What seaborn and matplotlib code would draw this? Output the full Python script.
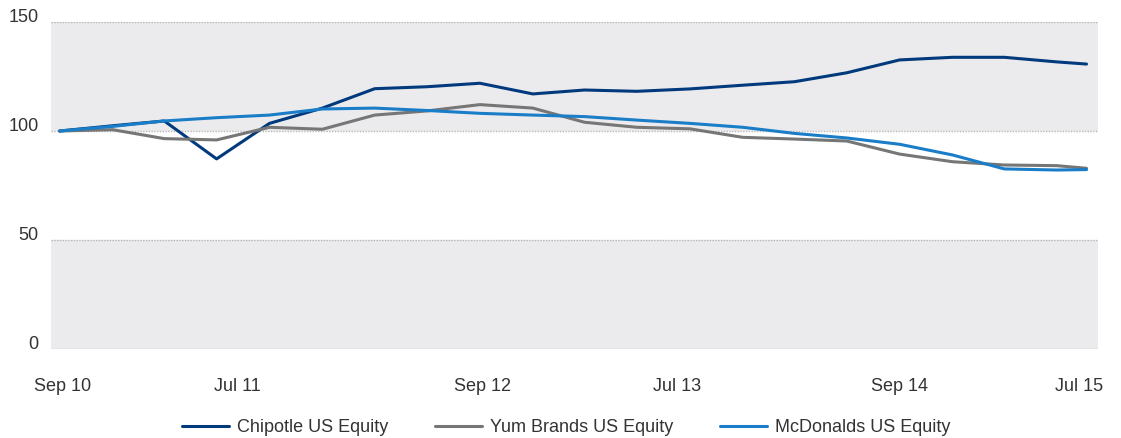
import pandas as pd
import seaborn as sns
import matplotlib.pyplot as plt

# quarterly observations, rebased to 100 at Sep 2010
dates = ['2010-09-30', '2010-12-31', '2011-03-31', '2011-06-30', '2011-09-30',
         '2011-12-31', '2012-03-31', '2012-06-30', '2012-09-30', '2012-12-31',
         '2013-03-31', '2013-06-30', '2013-09-30', '2013-12-31', '2014-03-31',
         '2014-06-30', '2014-09-30', '2014-12-31', '2015-03-31', '2015-06-30',
         '2015-08-21']
chipotle = [100, 102.4, 104.6, 87.2, 103.5, 110.5, 119.4, 120.3, 121.9, 117.0,
            118.8, 118.2, 119.3, 121.0, 122.6, 126.7, 132.6, 133.8, 133.8, 131.7, 130.7]
yum = [100, 100.6, 96.5, 95.9, 101.7, 100.8, 107.3, 109.2, 112.1, 110.5,
       104.0, 101.7, 101.0, 97.1, 96.3, 95.4, 89.4, 85.9, 84.4, 84.1, 82.9]
mcdonalds = [100, 102.1, 104.6, 106.1, 107.3, 110.1, 110.5, 109.4, 108.1, 107.3,
             106.6, 105.0, 103.5, 101.7, 98.9, 96.8, 93.9, 89.0, 82.6, 82.1, 82.3]

series_names = ['Chipotle US Equity', 'Yum Brands US Equity', 'McDonalds US Equity']
colors = ['#003a7d', '#767676', '#1a7dc8']

tick_dates = ['2010-10-05', '2011-08-05', '2012-10-05', '2013-09-08', '2014-09-30', '2015-08-08']
tick_labels = ['Sep 10', 'Jul 11', 'Sep 12', 'Jul 13', 'Sep 14', 'Jul 15']
y_ticks = [0, 50, 100, 150]

df = pd.DataFrame({'date': pd.to_datetime(dates),
                   series_names[0]: chipotle,
                   series_names[1]: yum,
                   series_names[2]: mcdonalds})
long_df = df.melt(id_vars='date', var_name='series', value_name='value')

sns.set_style('white')
plt.rcParams['font.family'] = ['Liberation Sans', 'DejaVu Sans']

fig = plt.figure(figsize=(11.21, 4.38), dpi=100)
ax = fig.add_axes([0.0455, 0.2032, 0.9340, 0.7466])

# alternating bands
band = '#ebebee'
ax.axhspan(100, 150, color=band, lw=0, zorder=0)
ax.axhspan(0, 50, color=band, lw=0, zorder=0)
for y in y_ticks:
    ax.axhline(y, color='#b5b5b5', lw=1, ls=(0, (1, 1)), zorder=1)

sns.lineplot(data=long_df, x='date', y='value', hue='series', hue_order=series_names,
             palette=colors, linewidth=2.2, ax=ax, legend=False, zorder=3)

ax.set_xlim(pd.Timestamp('2010-09-15'), pd.Timestamp('2015-09-10'))
ax.set_ylim(0, 150)
ax.set_xticks(pd.to_datetime(tick_dates))
ax.set_xticklabels(tick_labels)
ax.set_yticks(y_ticks)
ax.set_yticklabels([str(v) for v in y_ticks])
for lab in ax.get_yticklabels():
    lab.set_verticalalignment('baseline')
ax.tick_params(axis='x', length=0, pad=21, labelsize=13, labelcolor='#333333')
ax.tick_params(axis='y', length=0, pad=9, labelsize=13, labelcolor='#333333')
ax.set_xlabel('')
ax.set_ylabel('')
for s in ax.spines.values():
    s.set_visible(False)

handles = [plt.Line2D([], [], color=c, lw=2.2) for c in colors]
fig.legend(handles, series_names, loc='center', bbox_to_anchor=(0.505, 1 - 428 / 438),
           ncol=3, frameon=False, fontsize=13, handlelength=2.6, handletextpad=0.45,
           columnspacing=2.6, labelcolor='#333333')

fig.savefig('out.png', dpi=100)
